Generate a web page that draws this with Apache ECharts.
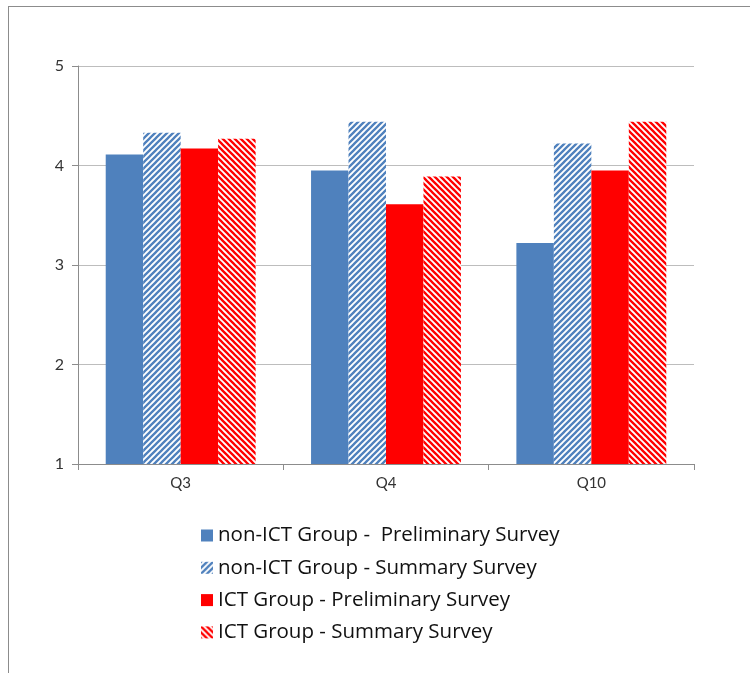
<!DOCTYPE html>
<html>
<head>
<meta charset="utf-8">
<script src="https://cdn.jsdelivr.net/npm/echarts@6/dist/echarts.min.js"></script>
<style>
  html, body { margin: 0; padding: 0; background: #fff; }
  #chart { position: absolute; left: 0; top: 0; width: 750px; height: 673px; }
  #frame { position: absolute; left: 8px; top: 6px; width: 742px; height: 667px;
           border-top: 1px solid #8c8c8c; border-left: 1px solid #8c8c8c; pointer-events: none; }
</style>
</head>
<body>
<div id="chart"></div>
<div id="frame"></div>
<script>
const categories = ['Q3', 'Q4', 'Q10'];
const seriesNames = [
  'non-ICT Group -  Preliminary Survey',
  'non-ICT Group - Summary Survey',
  'ICT Group - Preliminary Survey',
  'ICT Group - Summary Survey'
];
const nonIctPreliminary = [4.11, 3.95, 3.22];
const nonIctSummary = [4.33, 4.44, 4.22];
const ictPreliminary = [4.17, 3.61, 3.95];
const ictSummary = [4.27, 3.89, 4.44];
const yTicks = [1, 2, 3, 4, 5];

const BLUE = '#4F81BD';
const RED = '#FF0000';

function hatch(color, upward) {
  const p = 6;
  const c = document.createElement('canvas');
  c.width = p; c.height = p;
  const g = c.getContext('2d');
  g.fillStyle = '#ffffff';
  g.fillRect(0, 0, p, p);
  g.strokeStyle = color;
  g.lineWidth = 2.3;
  g.beginPath();
  for (let k = -1; k <= 1; k++) {
    if (upward) {
      g.moveTo(-1 + k * p, p + 1);
      g.lineTo(p + 1 + k * p, -1);
    } else {
      g.moveTo(-1 + k * p, -1);
      g.lineTo(p + 1 + k * p, p + 1);
    }
  }
  g.stroke();
  return { image: c, repeat: 'repeat' };
}

const fills = [BLUE, hatch(BLUE, true), RED, hatch(RED, false)];
const dataSets = [nonIctPreliminary, nonIctSummary, ictPreliminary, ictSummary];

const chart = echarts.init(document.getElementById('chart'));
const FONT = 'Lato, "Open Sans", sans-serif';
const LEGEND_FONT = '"Open Sans", Lato, sans-serif';

chart.setOption({
  backgroundColor: 'transparent',
  animation: false,
  textStyle: { fontFamily: FONT },
  grid: { left: 78, right: 56, top: 66, bottom: 209, containLabel: false },
  legend: {
    orient: 'vertical',
    left: 196,
    top: 520,
    itemWidth: 12,
    itemHeight: 12,
    itemGap: 11.3,
    icon: 'rect',
    textStyle: { fontFamily: LEGEND_FONT, fontSize: 20.5, color: '#111', padding: [0, 0, 0, 0] },
    data: seriesNames
  },
  xAxis: {
    type: 'category',
    data: categories,
    axisLine: { show: true, lineStyle: { color: '#8c8c8c', width: 1 } },
    axisTick: { show: true, length: 6, lineStyle: { color: '#8c8c8c' } },
    axisLabel: { fontFamily: FONT, fontSize: 15, color: '#333', margin: 12 },
    splitLine: { show: false }
  },
  yAxis: {
    type: 'value',
    min: yTicks[0],
    max: yTicks[yTicks.length - 1],
    interval: 1,
    axisLine: { show: true, lineStyle: { color: '#8c8c8c', width: 1 } },
    axisTick: { show: true, length: 6, lineStyle: { color: '#8c8c8c' } },
    axisLabel: { fontFamily: FONT, fontSize: 16, color: '#333', margin: 14 },
    splitLine: { show: true, lineStyle: { color: '#bdbdbd', width: 1 } }
  },
  series: seriesNames.map((name, i) => ({
    name: name,
    type: 'bar',
    data: dataSets[i],
    barGap: '0%',
    barCategoryGap: '27%',
    itemStyle: { color: fills[i] }
  }))
});
</script>
</body>
</html>
